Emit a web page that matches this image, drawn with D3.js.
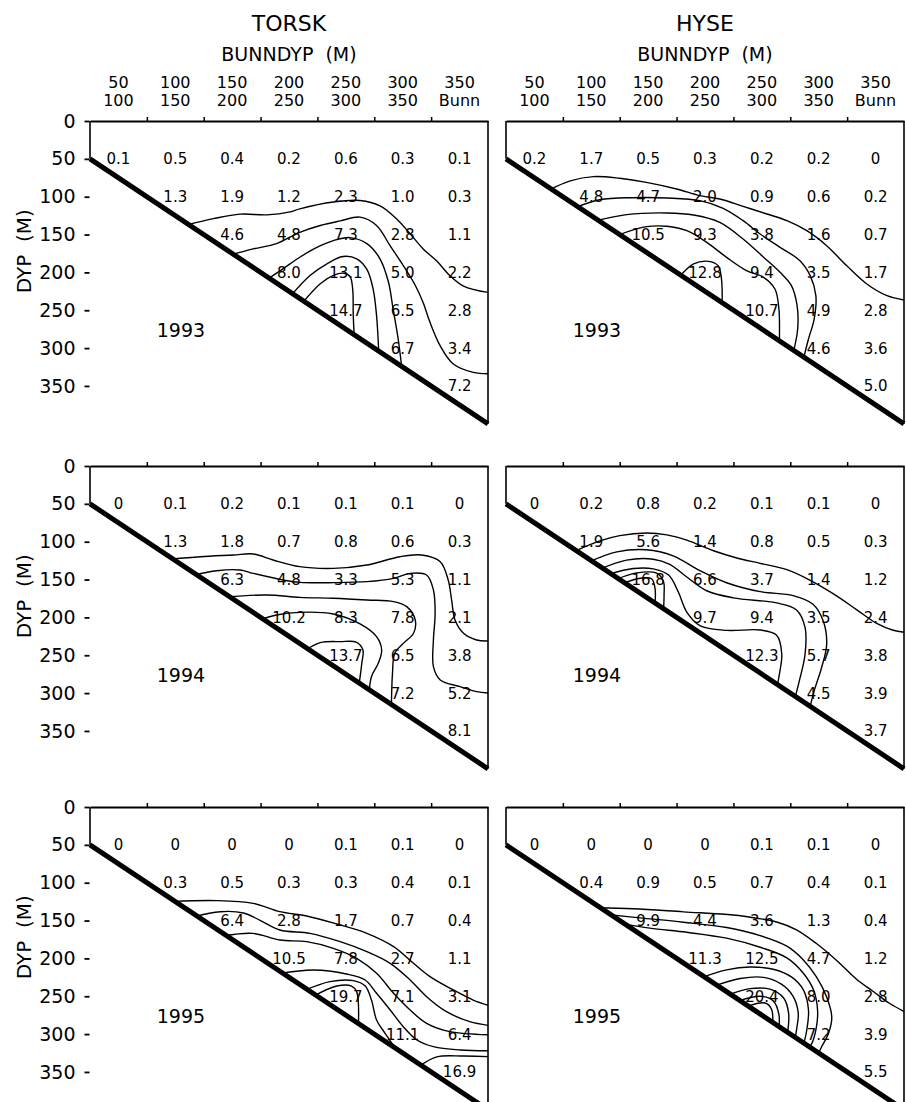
<!DOCTYPE html>
<html>
<head>
<meta charset="utf-8">
<script src="https://cdn.jsdelivr.net/npm/d3@7"></script>
<style>
  body { margin: 0; background: #fff; }
  svg { font-family: "DejaVu Sans", sans-serif; }
</style>
</head>
<body>
<div id="chart"></div>
<script>
// column classes (bottom depth) and depth levels
var species = ["TORSK", "HYSE"];
var years = ["1993", "1994", "1995"];
var colTop = ["50", "100", "150", "200", "250", "300", "350"];
var colBottom = ["100", "150", "200", "250", "300", "350", "Bunn"];
var depthTicks = [0, 50, 100, 150, 200, 250, 300, 350];
var depthLevels = [50, 100, 150, 200, 250, 300, 350];

// values per depth level; row r starts at column r
var torsk1993 = [
  [0.1, 0.5, 0.4, 0.2, 0.6, 0.3, 0.1],
  [1.3, 1.9, 1.2, 2.3, 1.0, 0.3],
  [4.6, 4.8, 7.3, 2.8, 1.1],
  [8.0, 13.1, 5.0, 2.2],
  [14.7, 6.5, 2.8],
  [6.7, 3.4],
  [7.2]
];
var hyse1993 = [
  [0.2, 1.7, 0.5, 0.3, 0.2, 0.2, 0],
  [4.8, 4.7, 2.0, 0.9, 0.6, 0.2],
  [10.5, 9.3, 3.8, 1.6, 0.7],
  [12.8, 9.4, 3.5, 1.7],
  [10.7, 4.9, 2.8],
  [4.6, 3.6],
  [5.0]
];
var torsk1994 = [
  [0, 0.1, 0.2, 0.1, 0.1, 0.1, 0],
  [1.3, 1.8, 0.7, 0.8, 0.6, 0.3],
  [6.3, 4.8, 3.3, 5.3, 1.1],
  [10.2, 8.3, 7.8, 2.1],
  [13.7, 6.5, 3.8],
  [7.2, 5.2],
  [8.1]
];
var hyse1994 = [
  [0, 0.2, 0.8, 0.2, 0.1, 0.1, 0],
  [1.9, 5.6, 1.4, 0.8, 0.5, 0.3],
  [16.8, 6.6, 3.7, 1.4, 1.2],
  [9.7, 9.4, 3.5, 2.4],
  [12.3, 5.7, 3.8],
  [4.5, 3.9],
  [3.7]
];
var torsk1995 = [
  [0, 0, 0, 0, 0.1, 0.1, 0],
  [0.3, 0.5, 0.3, 0.3, 0.4, 0.1],
  [6.4, 2.8, 1.7, 0.7, 0.4],
  [10.5, 7.8, 2.7, 1.1],
  [19.7, 7.1, 3.1],
  [11.1, 6.4],
  [16.9]
];
var hyse1995 = [
  [0, 0, 0, 0, 0.1, 0.1, 0],
  [0.4, 0.9, 0.5, 0.7, 0.4, 0.1],
  [9.9, 4.4, 3.6, 1.3, 0.4],
  [11.3, 12.5, 4.7, 1.2],
  [20.4, 8.0, 2.8],
  [7.2, 3.9],
  [5.5]
];

// isolines: [column position, depth m]
var torsk1993Lines = [
  [[1.72,137],[2.17,129],[2.64,123],[3.11,124],[3.52,120],[3.69,116],[4.28,107],[4.75,105],[5.10,112],[5.39,129],[5.63,149],[5.86,169],[6.10,185],[6.30,202],[6.57,218],[7.05,227]],
  [[2.48,177],[2.87,169],[3.28,162],[3.69,147],[4.05,138],[4.40,132],[4.75,127],[5.04,138],[5.28,165],[5.51,191],[5.72,217],[5.86,240],[5.98,266],[6.16,297],[6.39,321],[6.74,332],[7.05,334]],
  [[3.12,209],[3.40,195],[3.69,180],[3.99,167],[4.28,158],[4.57,154],[4.87,162],[5.10,182],[5.25,213],[5.33,248],[5.42,288],[5.49,330]],
  [[3.54,230],[3.87,204],[4.16,189],[4.45,179],[4.69,182],[4.87,196],[4.98,222],[5.04,257],[5.08,308]],
  [[3.74,240],[4.05,215],[4.28,204],[4.45,201],[4.57,205],[4.62,222],[4.63,257],[4.65,287]]
];
var hyse1993Lines = [
  [[0.76,91],[1.13,79],[1.54,73.5],[2.0,75.7],[2.47,81],[3.0,89.8],[3.41,98.6],[3.76,103],[4.17,112.7],[4.59,122.9],[4.94,131.7],[5.29,144.9],[5.64,164.7],[5.99,191],[6.34,215],[6.7,230.7],[7.05,237]],
  [[1.23,114],[1.65,104],[2.24,101.3],[2.83,101.7],[3.41,105.2],[3.82,115.4],[4.17,131.7],[4.47,149.3],[4.82,166.9],[5.17,184.5],[5.35,204.3],[5.45,230.7],[5.42,261.6],[5.32,288],[5.22,318]],
  [[1.58,132],[2.12,123.7],[2.83,121.5],[3.3,124.2],[3.76,133.9],[4.17,155.9],[4.53,180],[4.82,199.9],[5.02,217.5],[5.12,244],[5.13,274.8],[5.05,307]],
  [[1.96,151],[2.47,139.6],[2.83,139.1],[3.18,144.9],[3.53,160.3],[3.88,180.1],[4.23,197.7],[4.53,206.5],[4.73,221.9],[4.8,248.3],[4.81,283.6],[4.81,295]],
  [[3.05,206],[3.3,188.9],[3.56,185.4],[3.73,191.1],[3.79,208.7],[3.8,244]]
];
var torsk1994Lines = [
  [[1.42,123],[1.94,119.8],[2.52,117.6],[2.87,116.2],[3.22,124.2],[3.69,133],[4.28,135.2],[4.87,130.8],[5.45,119.8],[5.83,117.6],[6.16,126.4],[6.3,150.6],[6.36,177],[6.42,203.4],[6.57,221],[6.8,229.9],[7.05,231]],
  [[1.83,144],[2.23,138.3],[2.64,137.4],[2.87,141.8],[3.4,150.6],[3.69,153.7],[4.28,154.1],[4.87,152.8],[5.34,148.4],[5.63,141.8],[5.92,144],[6.04,163.8],[6.07,194.6],[6.04,229.9],[6.04,265.1],[6.16,282.7],[6.51,291.5],[6.8,298.1],[7.05,300]],
  [[2.4,173],[3.11,170.4],[3.69,173.5],[4.28,174.8],[4.87,177],[5.34,179.2],[5.57,185.8],[5.72,203.4],[5.69,221],[5.51,234.3],[5.36,247.5],[5.32,273.9],[5.3,320]],
  [[3.0,203],[3.28,196.8],[3.69,193.3],[4.28,195.5],[4.75,208.7],[5.04,225.5],[5.13,243.1],[5.07,260.7],[4.95,278.3],[4.91,299]],
  [[3.8,243],[4.05,233.4],[4.4,232],[4.69,232.9],[4.8,243.1],[4.78,260.7],[4.73,290]]
];
var hyse1994Lines = [
  [[1.2,113],[1.65,99],[2.0,92],[2.47,88.5],[2.83,91],[3.18,98],[3.65,112],[4.06,121.5],[4.47,128.6],[4.94,137],[5.35,151],[5.76,169],[6.17,190],[6.52,208],[6.81,217],[7.05,220]],
  [[1.48,126],[1.95,113.4],[2.47,110.6],[2.94,118.6],[3.41,138.2],[3.88,154.2],[4.47,166],[5.05,171.2],[5.4,182.6],[5.58,204.9],[5.64,235.8],[5.55,266.5],[5.42,297.1],[5.33,324]],
  [[1.66,136],[2.12,124.3],[2.59,123.1],[2.88,130],[3.18,146.7],[3.53,164.8],[4.0,174.2],[4.76,180.9],[5.11,190.1],[5.26,213.2],[5.26,248.5],[5.16,283.6],[5.07,310]],
  [[1.81,143],[2.24,135.4],[2.59,135.9],[2.86,144.1],[3.03,166.3],[3.18,192.9],[3.41,210.8],[3.88,217.2],[4.47,216.6],[4.76,223.6],[4.85,248],[4.81,274.4],[4.76,294]],
  [[1.93,150],[2.30,141.2],[2.65,141.6],[2.77,152.8],[2.78,170.4],[2.77,191]],
  [[2.05,155],[2.39,148],[2.56,149],[2.62,161],[2.62,184]]
];
var torsk1995Lines = [
  [[1.43,125],[2.23,123.7],[2.87,127.3],[3.34,138.3],[3.81,144],[4.34,154.6],[4.87,166.9],[5.34,184.5],[5.69,206.5],[5.98,224.1],[6.39,241.7],[6.74,255],[7.05,263]],
  [[1.83,145],[2.29,138.3],[2.7,140],[3.0,150],[3.34,162.5],[3.87,166.9],[4.4,177.9],[4.87,191.1],[5.28,206.5],[5.63,228.5],[5.92,250.6],[6.27,270.4],[6.68,283.6],[7.05,289]],
  [[2.36,170],[2.87,166.9],[3.34,175.7],[3.81,177.9],[4.28,186.7],[4.69,199.9],[5.04,219.7],[5.34,246.1],[5.63,268.2],[5.92,285.8],[6.33,296.8],[7.05,301]],
  [[3.33,220],[3.93,215.3],[4.51,220.6],[4.84,228.5],[5.04,246.1],[5.28,268.2],[5.51,290.2],[5.75,307.8],[6.04,316.6],[6.51,321],[7.05,322]],
  [[3.78,242],[4.22,230.7],[4.63,229.4],[4.84,236.5],[4.95,255],[5.04,281.4],[5.19,299],[5.42,324]],
  [[3.93,250],[4.34,236.5],[4.6,236.5],[4.69,243.9],[4.72,290]],
  [[5.8,342],[6.1,330],[6.57,329],[7.05,330]]
];
var hyse1995Lines = [
  [[1.6,133],[2.24,134.4],[3.12,138.5],[4.0,142.7],[4.41,146.9],[4.76,151.9],[5.11,162.2],[5.46,180.4],[5.82,203],[6.17,227.8],[6.46,243.7],[6.75,259.6],[7.05,272]],
  [[1.78,142],[2.36,146.5],[3.12,152.2],[3.88,159.2],[4.47,169.9],[4.94,183.9],[5.23,202],[5.46,224.4],[5.64,251.1],[5.73,277.8],[5.67,299.6],[5.55,317],[5.46,331]],
  [[2.04,154],[2.53,160],[3.18,165.5],[3.88,173.3],[4.47,185.3],[4.94,199.3],[5.23,219.6],[5.41,241.9],[5.48,268.5],[5.46,290.5],[5.38,312.3],[5.29,322]],
  [[3.45,225],[3.88,215.1],[4.29,211.4],[4.7,214.3],[5.02,224.5],[5.23,241.6],[5.32,268.2],[5.29,294.6],[5.23,315]],
  [[3.68,236],[4.12,226.5],[4.53,225],[4.85,234.3],[5.05,250.1],[5.14,272.3],[5.11,294.3],[5.08,308]],
  [[3.92,248],[4.29,240],[4.64,240.6],[4.88,252],[4.97,272],[4.95,300]],
  [[4.1,256],[4.47,250],[4.7,256.1],[4.8,274],[4.8,292]],
  [[4.25,263],[4.56,258.9],[4.67,267.1],[4.69,288]]
];

var panels = [
  { col: 0, row: 0, values: torsk1993, lines: torsk1993Lines },
  { col: 1, row: 0, values: hyse1993, lines: hyse1993Lines },
  { col: 0, row: 1, values: torsk1994, lines: torsk1994Lines },
  { col: 1, row: 1, values: hyse1994, lines: hyse1994Lines },
  { col: 0, row: 2, values: torsk1995, lines: torsk1995Lines },
  { col: 1, row: 2, values: hyse1995, lines: hyse1995Lines }
];

var width = 906, height = 1102;
var colX0 = [90, 506], panelW = 398;
var rowY0 = [121, 466, 807], pxPerM = 0.757;

var svg = d3.select("#chart").append("svg")
    .attr("width", width)
    .attr("height", height);

var fmt = function (v) { return v === 0 ? "0" : v.toFixed(1); };

panels.forEach(function (p, i) {
  var x = d3.scaleLinear().domain([0, 7]).range([colX0[p.col], colX0[p.col] + panelW]);
  var y = d3.scaleLinear().domain([0, 400]).range([rowY0[p.row], rowY0[p.row] + 400 * pxPerM]);
  var g = svg.append("g");

  var line = d3.line().x(function (d) { return x(d[0]); }).y(function (d) { return y(d[1]); });
  var smooth = d3.line()
      .x(function (d) { return x(d[0]); })
      .y(function (d) { return y(d[1]); })
      .curve(d3.curveCatmullRom.alpha(0.5));

  // area above the sea bed
  svg.append("clipPath").attr("id", "clip" + i)
    .append("path")
      .attr("d", line([[0, 0], [7, 0], [7, 400], [0, 50]]) + "Z");

  // isolines
  g.append("g")
      .attr("clip-path", "url(#clip" + i + ")")
    .selectAll("path")
    .data(p.lines)
    .join("path")
      .attr("d", smooth)
      .attr("fill", "none")
      .attr("stroke", "#000")
      .attr("stroke-width", 1.4);

  // top axis with class boundaries
  var top = g.append("g")
      .attr("transform", "translate(0," + y(0) + ")")
      .call(d3.axisTop(x).tickValues([1, 2, 3, 4, 5, 6]).tickSize(4).tickSizeOuter(0).tickFormat(""));
  top.select(".domain").attr("stroke-width", 2);
  top.selectAll(".tick line").attr("stroke-width", 1.5);

  // panel edges
  g.append("path").attr("d", line([[0, 0], [0, 50]]))
      .attr("stroke", "#000").attr("stroke-width", 1.6);
  g.append("path").attr("d", line([[7, 0], [7, 400]]))
      .attr("stroke", "#000").attr("stroke-width", 1.6);

  // sea bed
  g.append("path").attr("d", line([[0, 50], [7, 400]]))
      .attr("stroke", "#000").attr("stroke-width", 5).attr("stroke-linecap", "butt");

  // catch values
  var cells = [];
  p.values.forEach(function (rowVals, r) {
    rowVals.forEach(function (v, k) {
      cells.push({ c: r + k, depth: depthLevels[r], v: v });
    });
  });
  g.append("g").selectAll("text")
    .data(cells)
    .join("text")
      .attr("x", function (d) { return x(d.c + 0.5); })
      .attr("y", function (d) { return y(d.depth); })
      .attr("dy", "0.36em")
      .attr("text-anchor", "middle")
      .attr("font-size", 15)
      .text(function (d) { return fmt(d.v); });

  // year
  g.append("text")
      .attr("x", x(1.6))
      .attr("y", y(276))
      .attr("dy", "0.36em")
      .attr("text-anchor", "middle")
      .attr("font-size", 19)
      .text(years[p.row]);

  // depth axis on the left column
  if (p.col === 0) {
    var left = g.append("g")
        .attr("transform", "translate(" + (x(0) - 0.5) + ",0)")
        .call(d3.axisLeft(y).tickValues(depthTicks).tickSize(5).tickPadding(9));
    left.select(".domain").remove();
    left.selectAll(".tick line").attr("stroke-width", 1.8);
    left.selectAll(".tick text")
        .attr("font-size", 19)
        .attr("font-family", "DejaVu Sans, sans-serif")
        .attr("fill", "#000");
    g.append("text")
        .attr("transform", "translate(31," + y(172) + ") rotate(-90)")
        .attr("text-anchor", "middle")
        .attr("font-size", 20)
        .style("white-space", "pre")
        .text("DYP  (M)");
  }

  // headers over the top row
  if (p.row === 0) {
    g.append("text")
        .attr("x", x(3.5)).attr("y", 31)
        .attr("text-anchor", "middle")
        .attr("font-size", 22)
        .text(species[p.col]);
    g.append("text")
        .attr("x", x(3.5)).attr("y", 61)
        .attr("text-anchor", "middle")
        .attr("font-size", 19)
        .style("white-space", "pre")
        .text("BUNNDYP  (M)");
    g.append("g").selectAll("text")
      .data(colTop)
      .join("text")
        .attr("x", function (d, k) { return x(k + 0.5); })
        .attr("y", 88)
        .attr("text-anchor", "middle")
        .attr("font-size", 16)
        .text(function (d) { return d; });
    g.append("g").selectAll("text")
      .data(colBottom)
      .join("text")
        .attr("x", function (d, k) { return x(k + 0.5); })
        .attr("y", 106)
        .attr("text-anchor", "middle")
        .attr("font-size", 16)
        .text(function (d) { return d; });
  }
});
</script>
</body>
</html>
